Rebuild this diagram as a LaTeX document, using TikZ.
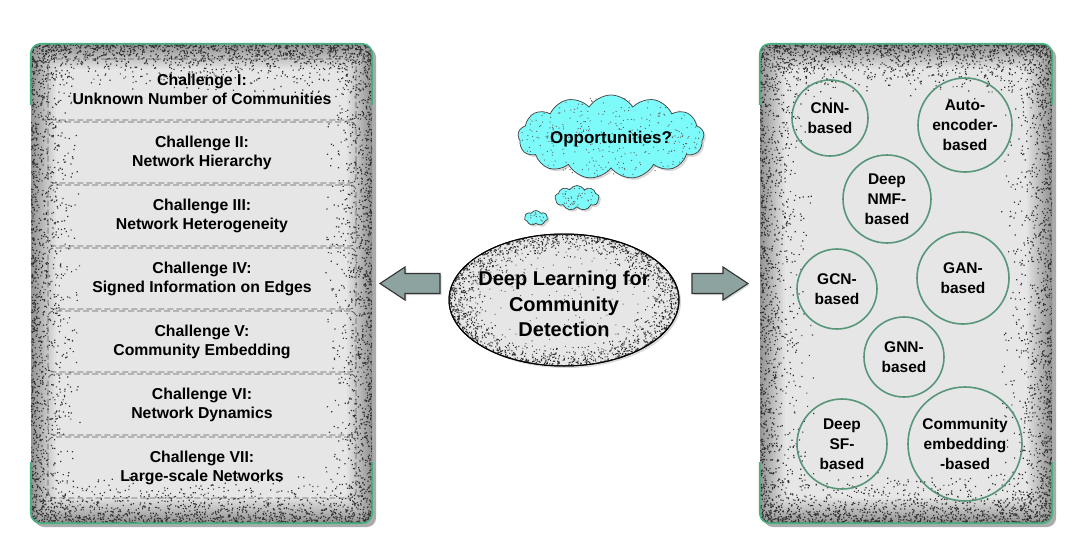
\documentclass[tikz,border=0pt]{standalone}
\usepackage{fontspec}
\setmainfont{Liberation Sans}
\usetikzlibrary{shapes.symbols,shapes.geometric,calc,shadows}
\definecolor{panelbg}{HTML}{E6E6E6}
\definecolor{gbr}{RGB}{70,178,128}
\definecolor{cgreen}{RGB}{88,150,122}
\definecolor{cyanc}{RGB}{125,250,250}
\definecolor{arrowc}{RGB}{140,163,160}
\colorlet{edgegray}{black!42}
\colorlet{dotc}{black!80}
% rectangular edge stipple: x0,y0,x1,y1,N (per long side),depth
\newcommand\myrectdots[6]{%
  \fill[dotc] foreach \i in {1,...,#5}{ ({#1+#6*rnd*rnd},{#2+(#4-#2)*rnd}) rectangle ++(1.2,1.2) };
  \fill[dotc] foreach \i in {1,...,#5}{ ({#3-#6*rnd*rnd},{#2+(#4-#2)*rnd}) rectangle ++(1.2,1.2) };
  \fill[dotc] foreach \i in {1,...,#5}{ ({#1+(#3-#1)*rnd},{#2+#6*rnd*rnd}) rectangle ++(1.2,1.2) };
  \fill[dotc] foreach \i in {1,...,#5}{ ({#1+(#3-#1)*rnd},{#4-#6*rnd*rnd}) rectangle ++(1.2,1.2) };}
% elliptic edge stipple: cx,cy,rx,ry,N,depthfraction
\newcommand\myelldots[6]{%
  \fill[dotc] foreach \i [evaluate=\i as \stA using 360*rnd, evaluate=\i as \stR using 1-#6*rnd*rnd] in {1,...,#5}
     { ({#1+#3*\stR*cos(\stA)},{#2+#4*\stR*sin(\stA)}) rectangle ++(1.1,1.1) };}
% uniform stipple in box: x0,y0,x1,y1,N
\newcommand\myboxdots[5]{%
  \fill[black!60] foreach \i in {1,...,#5}{ ({#1+(#3-#1)*rnd},{#2+(#4-#2)*rnd}) rectangle ++(1,1) };}
\begin{document}
\begin{tikzpicture}[x=1pt,y=-1pt,
  panel/.style={rectangle,rounded corners=9,minimum width=#1,minimum height=479,inner sep=0,
     fill=edgegray, drop shadow={shadow xshift=4pt,shadow yshift=-4pt,fill=black!60,opacity=.55}},
  rowbox/.style={rectangle,rounded corners=6,draw=black!65,dash pattern=on 6pt off 3pt,line width=.8,
     minimum width=308,minimum height=61,inner sep=0,align=center,
     font=\bfseries\fontsize{15.8}{19}\selectfont},
  bracket/.style={draw=gbr,line width=1.7,rounded corners=10},
  meth/.style={circle,draw=cgreen,line width=1.6,inner sep=0,minimum size=#1,align=center,
     font=\bfseries\fontsize{15.5}{20}\selectfont},
  blockarrow/.style={fill=arrowc,draw=black!80,line width=1.1,line join=miter,
     drop shadow={shadow xshift=1.5pt,shadow yshift=-1.5pt,opacity=.3}},
  thought/.style={cloud,fill=cyanc,draw=black!75,line width=.7,inner sep=0,
     drop shadow={shadow xshift=2pt,shadow yshift=-2pt,opacity=.3}}
]
\fill[white] (0,0) rectangle (1080,555);
\useasboundingbox (0,0) rectangle (1080,555);
\pgfmathsetseed{12345}

% ---------- left panel ----------
\node[panel=341] (lp) at (201.5,283.5) {};
\begin{scope}
\foreach \k in {1,...,14}{%
  \pgfmathsetmacro\m{100*\k/14}
  \fill[panelbg!\m!edgegray,rounded corners=8] ($(lp.north west)+(1.8*\k,1.8*\k)$) rectangle ($(lp.south east)+(-1.8*\k,-1.8*\k)$);}
\clip[rounded corners=9] (lp.north west) rectangle (lp.south east);
\myrectdots{31}{44}{372}{523}{1300}{50}
\end{scope}
\foreach \k/\t in {0/{Challenge I:\\Unknown Number of Communities},
                   1/{Challenge II:\\Network Hierarchy},
                   2/{Challenge III:\\Network Heterogeneity},
                   3/{Challenge IV:\\Signed Information on Edges},
                   4/{Challenge V:\\Community Embedding},
                   5/{Challenge VI:\\Network Dynamics},
                   6/{Challenge VII:\\Large-scale Networks}}{%
  \node[rowbox] (row\k) at (202,{89.5+63*\k}) {\t};}
\draw[bracket] ($(lp.north west)+(0,61)$) -- (lp.north west) -- (lp.north east) -- ($(lp.north east)+(0,61)$);
\draw[bracket] ($(lp.south west)+(0,-61)$) -- (lp.south west) -- (lp.south east) -- ($(lp.south east)+(0,-61)$);

% ---------- right panel ----------
\node[panel=292] (rp) at (906,283.5) {};
\begin{scope}
\foreach \k in {1,...,14}{%
  \pgfmathsetmacro\m{100*\k/14}
  \fill[panelbg!\m!edgegray,rounded corners=8] ($(rp.north west)+(1.8*\k,1.8*\k)$) rectangle ($(rp.south east)+(-1.8*\k,-1.8*\k)$);}
\clip[rounded corners=9] (rp.north west) rectangle (rp.south east);
\myrectdots{760}{44}{1052}{523}{1250}{55}
\end{scope}
\draw[bracket] ($(rp.north west)+(0,61)$) -- (rp.north west) -- (rp.north east) -- ($(rp.north east)+(0,61)$);
\draw[bracket] ($(rp.south west)+(0,-61)$) -- (rp.south west) -- (rp.south east) -- ($(rp.south east)+(0,-61)$);

\node[meth=76] (cnn) at (830,118) {CNN-\\based};
\node[meth=94] (auto) at (965,125) {Auto-\\encoder-\\based};
\node[meth=88] (nmf) at (887,199) {Deep\\NMF-\\based};
\node[meth=80] (gcn) at (837,289) {GCN-\\based};
\node[meth=92] (gan) at (963,278) {GAN-\\based};
\node[meth=80] (gnn) at (904,357) {GNN-\\based};
\node[meth=90] (sf) at (842,444) {Deep\\SF-\\based};
\node[meth=114] (ce) at (965,444) {Community\\embedding\\-based};

% ---------- centre ----------
\node[ellipse,fill=panelbg,draw=black,line width=1,minimum width=230,minimum height=132,inner sep=0,
      drop shadow={shadow xshift=2pt,shadow yshift=-2pt,opacity=.3}] (dl) at (564,300) {};
\begin{scope}
\clip (564,300) ellipse [x radius=115,y radius=66];
\myelldots{564}{300}{115}{66}{1700}{0.35}
\myboxdots{450}{234}{678}{366}{250}
\end{scope}
\draw[black,line width=1] (dl.center) ellipse [x radius=115,y radius=66];
\node[align=center,font=\bfseries\fontsize{20}{25.5}\selectfont] (dltext) at ($(dl.center)+(0,4)$) {Deep Learning for\\Community\\Detection};

\node[thought,cloud puffs=13,cloud puff arc=115,aspect=2.1,minimum width=186,minimum height=84] (opp) at (611,137) {};
\begin{scope}
\clip (611,137) ellipse [x radius=90,y radius=40];
\myboxdots{520}{96}{702}{178}{420}
\end{scope}
\node[font=\bfseries\fontsize{17}{20}\selectfont] (opptext) at ($(opp.center)+(0,2)$) {Opportunities?};
\node[thought,cloud puffs=9,cloud puff arc=120,aspect=1.8,minimum width=44,minimum height=25] (c1) at (577,198) {};
\node[thought,cloud puffs=7,cloud puff arc=120,aspect=1.5,minimum width=23,minimum height=15] (c2) at (536,218) {};
\begin{scope}
\clip (577,198) ellipse [x radius=19,y radius=10];
\myboxdots{558}{188}{596}{208}{45}
\end{scope}
\begin{scope}
\clip (536,218) ellipse [x radius=9,y radius=6];
\myboxdots{527}{212}{545}{224}{15}
\end{scope}

% ---------- block arrows ----------
\coordinate (la) at (410,283.5);
\draw[blockarrow] ($(la)+(30,-10)$) -- ($(la)+(-5,-10)$) -- ($(la)+(-5,-16.5)$) -- ($(la)+(-30,0)$)
   -- ($(la)+(-5,16.5)$) -- ($(la)+(-5,10)$) -- ($(la)+(30,10)$) -- cycle;
\coordinate (ra) at (720,283.5);
\draw[blockarrow] ($(ra)+(-28,-10)$) -- ($(ra)+(3,-10)$) -- ($(ra)+(3,-16.5)$) -- ($(ra)+(28,0)$)
   -- ($(ra)+(3,16.5)$) -- ($(ra)+(3,10)$) -- ($(ra)+(-28,10)$) -- cycle;
\end{tikzpicture}
\end{document}
